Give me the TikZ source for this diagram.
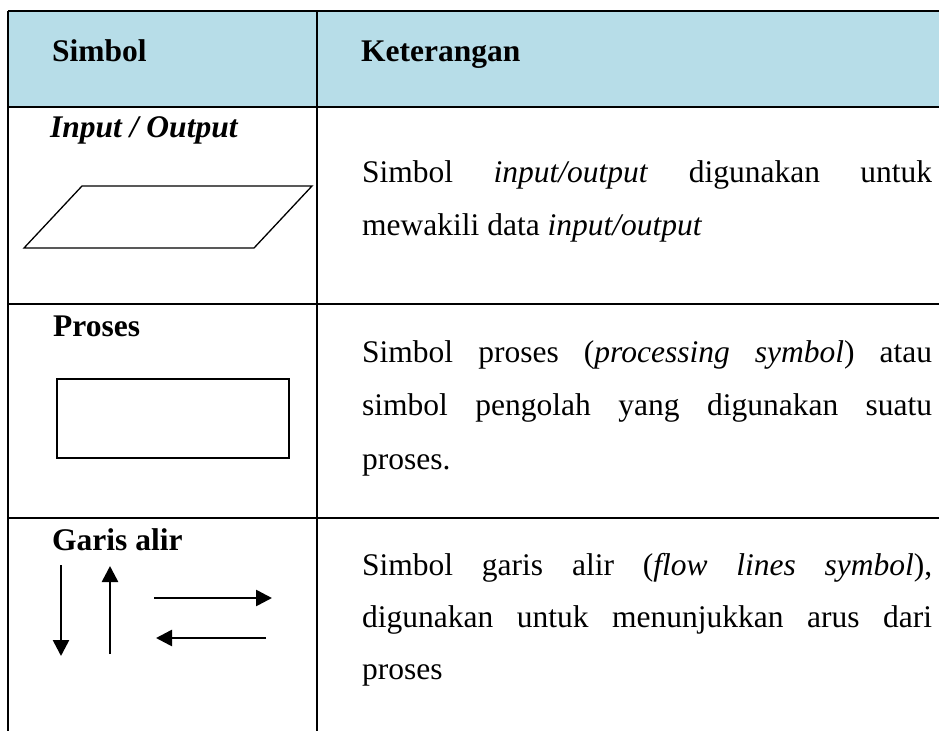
\documentclass[tikz,border=0pt]{standalone}
\usepackage{fontspec}
\setmainfont{Liberation Serif}
\usetikzlibrary{arrows.meta}
\definecolor{headblue}{RGB}{183,221,232}
\begin{document}
\begin{tikzpicture}[x=1pt,y=-1pt,
  gridline/.style={line width=2.6pt},
  symbolline/.style={line width=1.3pt},
  flowarrow/.style={line width=2.6pt,-{Triangle[length=16pt,width=16pt]}},
  headtext/.style={anchor=base west,inner sep=0pt,font=\fontsize{31.5}{36}\selectfont\bfseries},
  bodyline/.style={anchor=base west,inner sep=0pt,font=\fontsize{31.5}{36}\selectfont},
]
\useasboundingbox (0,0) rectangle (939,731);

% header band
\fill[headblue] (8,11) rectangle (939,107);

% table rules
\draw[gridline] (8,11) -- (939,11);
\draw[gridline] (8,107) -- (939,107);
\draw[gridline] (8,304) -- (939,304);
\draw[gridline] (8,518) -- (939,518);
\draw[gridline] (8,11) -- (8,731);
\draw[gridline] (317,11) -- (317,731);

% column heads
\node[headtext] (hsym) at (52,61) {Simbol};
\node[headtext] (hket) at (361,61) {Keterangan};

% row 1: input / output
\node[headtext] (lio) at (50,137) {\itshape Input / Output};
\draw[symbolline] (82,186) -- (312,186) -- (254,248) -- (24,248) -- cycle;
\node[bodyline] (t11) at (362,182) {\makebox[570pt][s]{Simbol \textit{input/output} digunakan untuk}};
\node[bodyline] (t12) at (362,235) {mewakili data \textit{input/output}};

% row 2: proses
\node[headtext] (lpr) at (53,336) {Proses};
\draw[symbolline] (57,379) rectangle (289,458);
\node[bodyline] (t21) at (362,362) {\makebox[570pt][s]{Simbol proses (\textit{processing symbol}) atau}};
\node[bodyline] (t22) at (362,415) {\makebox[570pt][s]{simbol pengolah yang digunakan suatu}};
\node[bodyline] (t23) at (362,469) {proses.};

% row 3: garis alir
\node[headtext] (lga) at (52,550) {Garis alir};
\coordinate (d1) at (61,565);
\coordinate (d2) at (61,656);
\coordinate (u1) at (110,654);
\coordinate (u2) at (110,566);
\coordinate (r1) at (154,598);
\coordinate (r2) at (272,598);
\coordinate (l1) at (266,638);
\coordinate (l2) at (156,638);
\draw[flowarrow] (d1) -- (d2);
\draw[flowarrow] (u1) -- (u2);
\draw[flowarrow] (r1) -- (r2);
\draw[flowarrow] (l1) -- (l2);
\node[bodyline] (t31) at (362,575) {\makebox[570pt][s]{Simbol garis alir (\textit{flow lines symbol}),}};
\node[bodyline] (t32) at (362,627) {\makebox[570pt][s]{digunakan untuk menunjukkan arus dari}};
\node[bodyline] (t33) at (362,679) {proses};
\end{tikzpicture}
\end{document}
